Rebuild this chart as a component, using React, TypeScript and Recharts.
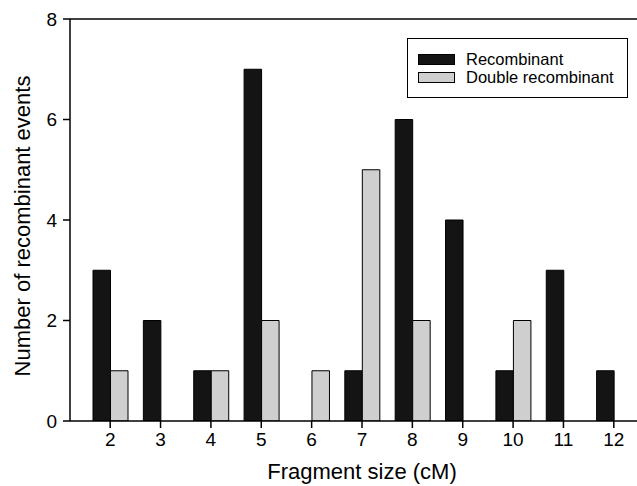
import React from 'react';
import { BarChart, Bar, XAxis, YAxis, ReferenceLine, Legend, Label } from 'recharts';

// fragment sizes (cM) and counts per series
const categories = ['2', '3', '4', '5', '6', '7', '8', '9', '10', '11', '12'];
const recombinant = [3, 2, 1, 7, 0, 1, 6, 4, 1, 3, 1];
const doubleRecombinant = [1, 0, 1, 2, 1, 5, 2, 0, 2, 0, 0];
const yTicks = [0, 2, 4, 6, 8];

const chartData = categories.map((size, i) => ({
  size,
  recombinant: recombinant[i],
  doubleRecombinant: doubleRecombinant[i],
}));

const FONT = '"Liberation Sans", Arial, Helvetica, sans-serif';
const BLACK = '#141414';
const GRAY = '#cfcfcf';

const legendItems = [
  { name: 'Recombinant', color: BLACK },
  { name: 'Double recombinant', color: GRAY },
];

const BoxLegend = () => (
  <div
    style={{
      border: '1.5px solid #000',
      width: 221,
      height: 60,
      boxSizing: 'border-box',
      display: 'flex',
      flexDirection: 'column',
      justifyContent: 'center',
      paddingLeft: 10,
      fontFamily: FONT,
      fontSize: 16.5,
      color: '#000',
      background: '#fff',
    }}
  >
    {legendItems.map((item) => (
      <div key={item.name} style={{ display: 'flex', alignItems: 'center', height: 18 }}>
        <span
          style={{
            display: 'inline-block',
            width: 37,
            height: 11,
            boxSizing: 'border-box',
            background: item.color,
            border: '1px solid #000',
            marginRight: 11,
          }}
        />
        <span style={{ lineHeight: '18px' }}>{item.name}</span>
      </div>
    ))}
  </div>
);

const YTitle = ({ viewBox }: any) => {
  const cx = 22;
  const cy = viewBox.y + viewBox.height / 2 + 6;
  return (
    <text
      x={cx}
      y={cy}
      transform={`rotate(-90, ${cx}, ${cy})`}
      textAnchor="middle"
      dominantBaseline="central"
      fontFamily={FONT}
      fontSize={22}
      fill="#000"
    >
      Number of recombinant events
    </text>
  );
};

const XTitle = ({ viewBox }: any) => (
  <text
    x={viewBox.x + viewBox.width / 2}
    y={viewBox.y + 50}
    textAnchor="middle"
    dominantBaseline="central"
    fontFamily={FONT}
    fontSize={22}
    fill="#000"
  >
    Fragment size (cM)
  </text>
);

const App = () => {
  return (
    <div
      style={{
        position: 'fixed',
        left: 0,
        top: 0,
        width: 637,
        height: 486,
        overflow: 'hidden',
        background: '#fff',
      }}
    >
      <BarChart
        width={660}
        height={486}
        data={chartData}
        margin={{ top: 19, right: 6, bottom: 0, left: 0 }}
        barSize={17.5}
        barGap={0}
      >
        <XAxis
          dataKey="size"
          height={65}
          padding={{ left: 15, right: 15 }}
          axisLine={{ stroke: '#000', strokeWidth: 1.5 }}
          tickLine={{ stroke: '#000', strokeWidth: 1.5 }}
          tickSize={7}
          tickMargin={5}
          tick={{ fontFamily: FONT, fontSize: 19, fill: '#000' }}
          interval={0}
        >
          <Label content={<XTitle />} />
        </XAxis>
        <YAxis
          width={70}
          domain={[0, 8]}
          ticks={yTicks}
          allowDataOverflow
          axisLine={{ stroke: '#000', strokeWidth: 1.5 }}
          tickLine={{ stroke: '#000', strokeWidth: 1.5 }}
          tickSize={7}
          tickMargin={6}
          tick={{ fontFamily: FONT, fontSize: 19, fill: '#000' }}
        >
          <Label content={<YTitle />} />
        </YAxis>
        <ReferenceLine y={8} stroke="#000" strokeWidth={1.5} />
        <Legend
          layout="vertical"
          verticalAlign="middle"
          align="center"
          content={<BoxLegend />}
          wrapperStyle={{ position: 'absolute', left: 407, top: 38, width: 'auto', height: 'auto' }}
        />
        <Bar
          dataKey="recombinant"
          name="Recombinant"
          fill={BLACK}
          stroke="#000"
          strokeWidth={1}
          isAnimationActive={false}
        />
        <Bar
          dataKey="doubleRecombinant"
          name="Double recombinant"
          fill={GRAY}
          stroke="#000"
          strokeWidth={1}
          isAnimationActive={false}
        />
      </BarChart>
    </div>
  );
};

export default App;
